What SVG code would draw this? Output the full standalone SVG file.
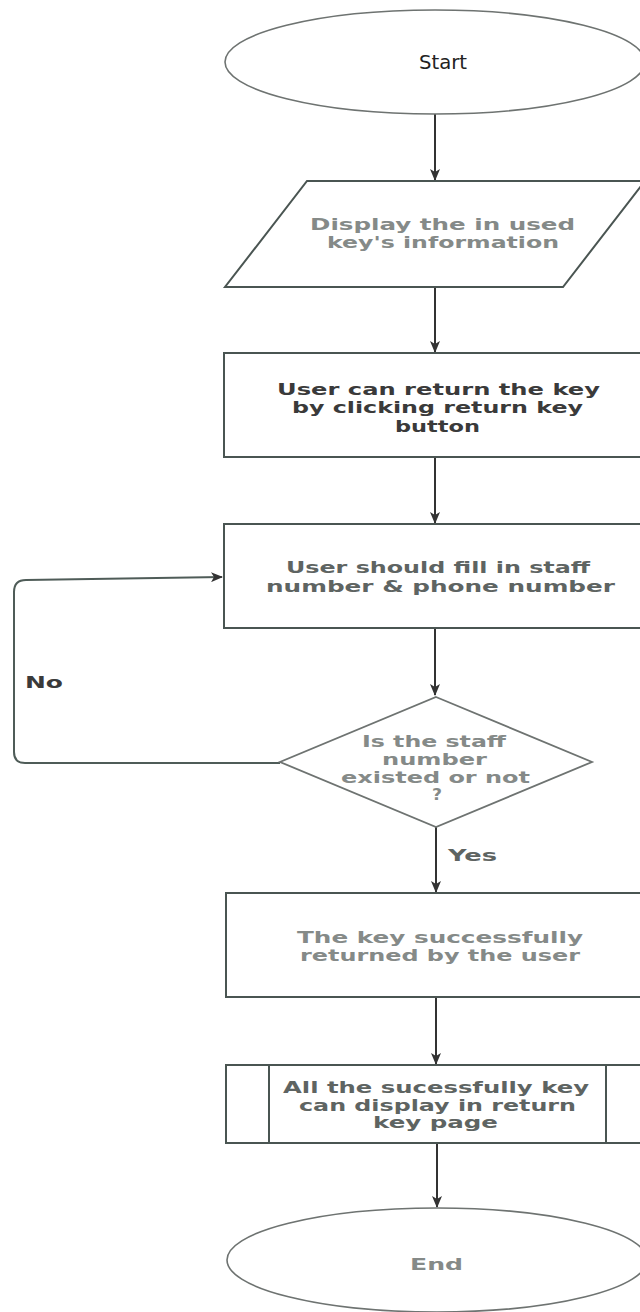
<svg xmlns="http://www.w3.org/2000/svg" width="640" height="1312" viewBox="0 0 640 1312">
  <style>
    .shape { fill: #ffffff; stroke: #4a5552; stroke-width: 2; }
    .oval { fill: #ffffff; stroke: #6e7371; stroke-width: 1.6; }
    .edge { fill: none; stroke: #333333; stroke-width: 2; }
    .loop { fill: none; stroke: #4f5c58; stroke-width: 2; }
    .t { font-family: "DejaVu Sans", "Liberation Sans", sans-serif; font-size: 16px; font-weight: bold; text-anchor: start; }
    .dark { fill: #3a3a3a; }
    .mid { fill: #5e6462; }
    .light { fill: #858a88; }
    .title { font-family: "DejaVu Sans Condensed", "Liberation Sans", sans-serif; font-size: 20px; fill: #222222; }
  </style>
  <defs>
    <marker id="arrow" viewBox="0 0 12 10" refX="11" refY="5" markerWidth="12" markerHeight="10" markerUnits="userSpaceOnUse" orient="auto">
      <path d="M0,0 L12,5 L0,10 L3,5 Z" fill="#333333"/>
    </marker>
  </defs>
  <rect x="0" y="0" width="640" height="1312" fill="#ffffff"/>

  <!-- connectors -->
  <g id="connectors">
    <line class="edge" x1="435" y1="114" x2="435" y2="180" marker-end="url(#arrow)"/>
    <line class="edge" x1="435" y1="288" x2="435" y2="352" marker-end="url(#arrow)"/>
    <line class="edge" x1="435" y1="458" x2="435" y2="523" marker-end="url(#arrow)"/>
    <line class="edge" x1="435" y1="629" x2="435" y2="695" marker-end="url(#arrow)"/>
    <line class="edge" x1="436" y1="827" x2="436" y2="892" marker-end="url(#arrow)"/>
    <line class="edge" x1="436" y1="998" x2="436" y2="1064" marker-end="url(#arrow)"/>
    <line class="edge" x1="437" y1="1144" x2="437" y2="1207" marker-end="url(#arrow)"/>
    <path class="loop" d="M280,763 L25,763 Q14,763 14,752 L14,592 Q14,580 26,580 L222,577" marker-end="url(#arrow)"/>
    <text class="t dark" x="25" y="688" textLength="38" lengthAdjust="spacingAndGlyphs">No</text>
    <text class="t mid" x="448" y="861" textLength="49" lengthAdjust="spacingAndGlyphs">Yes</text>
  </g>

  <!-- start terminator -->
  <g id="start">
    <ellipse class="oval" cx="435" cy="62" rx="210" ry="52"/>
    <text class="title" x="419" y="69" textLength="48" lengthAdjust="spacingAndGlyphs">Start</text>
  </g>

  <!-- input: display key info -->
  <g id="display-info">
    <polygon class="shape" points="307,181 645,181 563,287 225,287"/>
    <text class="t light" x="310" y="230" textLength="265" lengthAdjust="spacingAndGlyphs">Display the in used</text>
    <text class="t light" x="327" y="248" textLength="232" lengthAdjust="spacingAndGlyphs">key's information</text>
  </g>

  <!-- process: return key button -->
  <g id="return-key">
    <rect class="shape" x="224" y="353" width="424" height="104"/>
    <text class="t dark" x="277" y="395" textLength="323" lengthAdjust="spacingAndGlyphs">User can return the key</text>
    <text class="t dark" x="292" y="413" textLength="291" lengthAdjust="spacingAndGlyphs">by clicking return key</text>
    <text class="t dark" x="395" y="432" textLength="85" lengthAdjust="spacingAndGlyphs">button</text>
  </g>

  <!-- process: fill in numbers -->
  <g id="fill-numbers">
    <rect class="shape" x="224" y="524" width="424" height="104"/>
    <text class="t mid" x="286" y="573" textLength="304" lengthAdjust="spacingAndGlyphs">User should fill in staff</text>
    <text class="t mid" x="266" y="592" textLength="349" lengthAdjust="spacingAndGlyphs">number &amp; phone number</text>
  </g>

  <!-- decision: staff number check -->
  <g id="check-staff">
    <polygon class="shape" points="436,697 592,762 436,827 280,762" style="stroke:#6e7371;stroke-width:1.8"/>
    <text class="t light" x="362" y="747" textLength="144" lengthAdjust="spacingAndGlyphs">Is the staff</text>
    <text class="t light" x="382" y="765" textLength="105" lengthAdjust="spacingAndGlyphs">number</text>
    <text class="t light" x="341" y="783" textLength="189" lengthAdjust="spacingAndGlyphs">existed or not</text>
    <text class="t light" x="432" y="800" textLength="10" lengthAdjust="spacingAndGlyphs">?</text>
  </g>

  <!-- process: key returned -->
  <g id="key-returned">
    <rect class="shape" x="226" y="893" width="422" height="104"/>
    <text class="t light" x="297" y="943" textLength="286" lengthAdjust="spacingAndGlyphs">The key successfully</text>
    <text class="t light" x="300" y="961" textLength="280" lengthAdjust="spacingAndGlyphs">returned by the user</text>
  </g>

  <!-- predefined process: return key page -->
  <g id="return-page">
    <rect class="shape" x="226" y="1065" width="422" height="78"/>
    <line class="shape" x1="269" y1="1065" x2="269" y2="1143"/>
    <line class="shape" x1="606" y1="1065" x2="606" y2="1143"/>
    <text class="t mid" x="283" y="1093" textLength="306" lengthAdjust="spacingAndGlyphs">All the sucessfully key</text>
    <text class="t mid" x="299" y="1111" textLength="277" lengthAdjust="spacingAndGlyphs">can display in return</text>
    <text class="t mid" x="373" y="1128" textLength="125" lengthAdjust="spacingAndGlyphs">key page</text>
  </g>

  <!-- end terminator -->
  <g id="end">
    <ellipse class="oval" cx="437" cy="1260" rx="210" ry="52"/>
    <text class="t light" x="410" y="1270" textLength="53" lengthAdjust="spacingAndGlyphs">End</text>
  </g>
</svg>
